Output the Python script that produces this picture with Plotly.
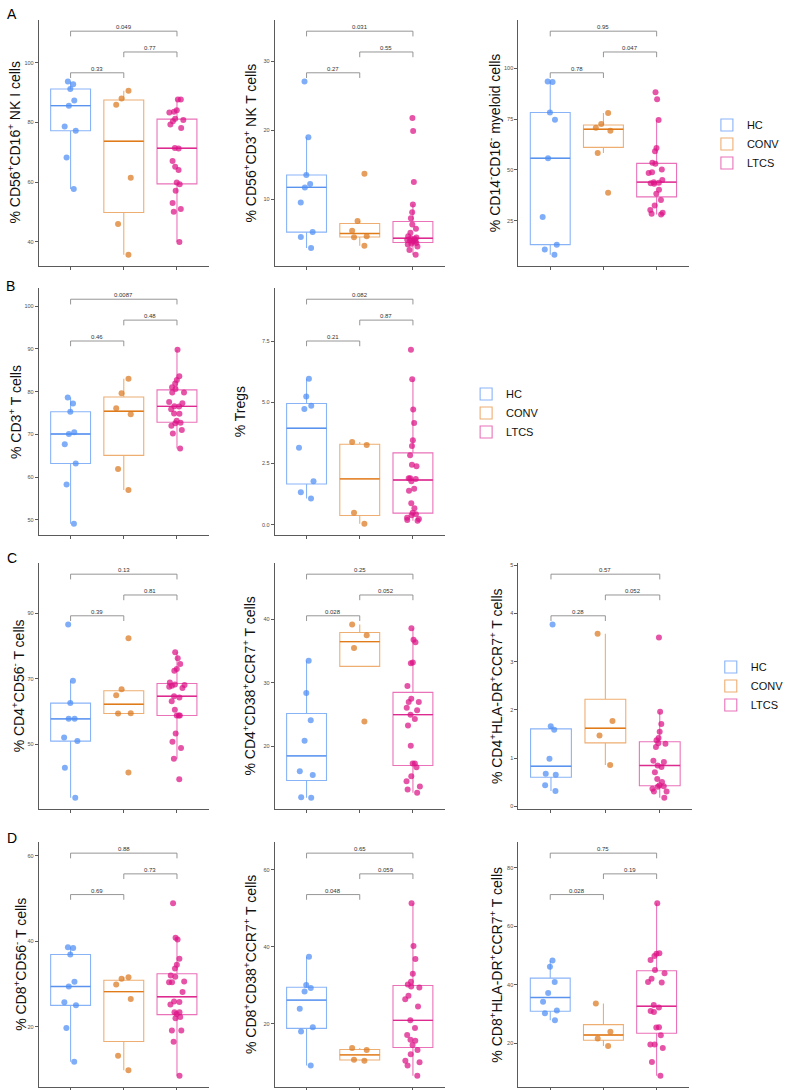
import numpy as np
import plotly.graph_objects as go

GROUPS = ["HC", "CONV", "LTCS"]
COMPARISONS = [(1, 2), (2, 3), (1, 3)]

# ---------------- data ----------------
# Row A
A1_HC = [93.7, 92.8, 91.2, 87.3, 85.6, 78.6, 77.2, 68.3, 57.7]
A1_CONV = [90.6, 88.0, 85.9, 61.5, 46.0, 35.7]
A1_LTCS = [87.7, 87.7, 84.1, 83.6, 83.3, 81.2, 80.4, 80.8, 79.3, 78.1, 71.4, 71.3,
           67.1, 65.2, 64.1, 59.9, 59.3, 57.1, 53.0, 51.0, 50.1, 40.0]
A1_P = ["0.33", "0.77", "0.049"]
A1_TICKS = [40, 60, 80, 100]
A1_TICKTEXT = ["40", "60", "80", "100"]

A2_HC = [27.1, 19.0, 13.5, 12.2, 11.7, 9.5, 5.2, 4.5, 2.9]
A2_CONV = [13.7, 6.8, 5.4, 4.6, 4.45, 3.2]
A2_LTCS = [21.8, 19.9, 12.5, 9.2, 8.1, 7.2, 6.3, 5.7, 5.1, 4.6, 4.4, 4.3, 4.2, 4.1,
           4.0, 3.9, 3.8, 3.6, 3.5, 3.4, 3.1, 2.6, 1.9]
A2_P = ["0.27", "0.55", "0.031"]
A2_TICKS = [10, 20, 30]
A2_TICKTEXT = ["10", "20", "30"]

A3_HC = [93.3, 93.6, 78.3, 74.7, 55.8, 26.8, 13.2, 10.8, 8.2]
A3_CONV = [78.1, 72.6, 70.8, 69.3, 58.4, 38.8]
A3_LTCS = [88.3, 84.8, 74.6, 60.8, 59.2, 53.5, 53.0, 50.2, 48.9, 48.5, 45.0, 44.0,
           43.7, 43.5, 43.2, 40.3, 38.3, 35.2, 32.5, 30.3, 28.9, 28.4, 28.0]
A3_P = ["0.78", "0.047", "0.95"]
A3_TICKS = [25, 50, 75, 100]
A3_TICKTEXT = ["25", "50", "75", "100"]

# Row B
B1_HC = [78.6, 77.2, 75.3, 70.5, 70.1, 67.7, 63.2, 58.3, 49.1]
B1_CONV = [83.0, 79.6, 76.1, 74.7, 61.9, 57.0]
B1_LTCS = [89.8, 83.6, 82.7, 81.9, 81.0, 80.6, 79.8, 79.8, 77.6, 77.3, 76.6, 76.5,
           75.9, 74.9, 74.8, 73.2, 72.7, 72.6, 72.0, 71.0, 70.2, 66.7]
B1_P = ["0.46", "0.48", "0.0087"]
B1_TICKS = [50, 60, 70, 80, 90, 100]
B1_TICKTEXT = ["50", "60", "70", "80", "90", "100"]

B2_HC = [5.96, 5.24, 4.86, 4.73, 3.15, 1.78, 1.33, 1.07]
B2_CONV = [3.38, 3.26, 0.49, 0.04]
B2_LTCS = [7.15, 5.94, 4.71, 4.16, 3.45, 3.22, 2.84, 2.45, 2.39, 1.90, 1.90, 1.87,
           1.78, 1.47, 1.39, 0.88, 0.67, 0.49, 0.43, 0.39, 0.29, 0.23, 0.19, 0.16]
B2_P = ["0.21", "0.87", "0.082"]
B2_TICKS = [0.0, 2.5, 5.0, 7.5]
B2_TICKTEXT = ["0.0", "2.5", "5.0", "7.5"]

# Row C
C1_HC = [86.6, 69.4, 62.6, 57.8, 57.8, 52.1, 51.0, 42.9, 33.7]
C1_CONV = [82.4, 66.8, 65.0, 59.5, 59.4, 41.4]
C1_LTCS = [78.1, 76.3, 74.5, 73.0, 72.5, 68.9, 68.3, 68.1, 67.9, 67.6, 67.2, 64.7,
           64.3, 63.2, 60.6, 58.8, 58.8, 58.8, 53.3, 50.8, 48.9, 45.6, 39.4]
C1_P = ["0.39", "0.81", "0.13"]
C1_TICKS = [50, 70, 90]
C1_TICKTEXT = ["50", "70", "90"]

C2_HC = [33.5, 28.4, 24.1, 20.9, 16.1, 15.5, 12.0, 11.9]
C2_CONV = [39.2, 37.5, 35.5, 23.9]
C2_LTCS = [38.6, 36.8, 36.4, 33.2, 33.1, 29.5, 27.5, 27.0, 27.0, 26.1, 25.7, 25.0,
           24.3, 23.3, 20.1, 17.3, 17.3, 16.7, 15.3, 14.5, 13.7, 13.2, 12.7]
C2_P = ["0.028", "0.052", "0.25"]
C2_TICKS = [20, 30, 40]
C2_TICKTEXT = ["20", "30", "40"]

C3_HC = [3.77, 1.66, 1.59, 0.99, 0.68, 0.66, 0.44, 0.32]
C3_CONV = [3.58, 1.77, 1.47, 0.86]
C3_LTCS = [3.50, 1.96, 1.71, 1.55, 1.42, 1.37, 1.31, 1.30, 1.23, 0.95, 0.92, 0.85,
           0.82, 0.71, 0.57, 0.51, 0.44, 0.42, 0.41, 0.37, 0.31, 0.31, 0.18]
C3_P = ["0.28", "0.052", "0.57"]
C3_TICKS = [0, 1, 2, 3, 4, 5]
C3_TICKTEXT = ["0", "1", "2", "3", "4", "5"]

# Row D
D1_HC = [38.6, 38.4, 36.9, 30.5, 29.4, 25.7, 25.0, 19.7, 11.8]
D1_CONV = [31.6, 31.2, 29.9, 26.5, 13.2, 9.8]
D1_LTCS = [48.9, 40.8, 40.4, 35.9, 34.5, 33.6, 32.0, 31.7, 30.6, 30.4, 30.4, 28.1,
           25.9, 25.8, 25.2, 23.4, 23.4, 23.0, 22.3, 22.0, 19.1, 19.1, 16.5, 8.5]
D1_P = ["0.69", "0.73", "0.88"]
D1_TICKS = [20, 40, 60]
D1_TICKTEXT = ["20", "40", "60"]

D2_HC = [37.4, 30.1, 29.3, 28.4, 23.9, 19.1, 18.0, 9.2]
D2_CONV = [13.7, 13.2, 10.7, 10.4]
D2_LTCS = [51.3, 40.2, 36.8, 33.0, 30.9, 30.2, 29.7, 29.4, 27.3, 26.4, 24.5, 20.9,
           18.9, 17.1, 15.9, 15.6, 14.5, 13.2, 12.1, 10.4, 10.0, 9.2, 6.5]
D2_P = ["0.048", "0.059", "0.65"]
D2_TICKS = [20, 40, 60]
D2_TICKTEXT = ["20", "40", "60"]

D3_HC = [48.3, 46.2, 41.0, 37.2, 34.2, 31.2, 30.3, 27.9]
D3_CONV = [33.6, 24.0, 21.7, 19.1]
D3_LTCS = [67.9, 50.8, 50.6, 49.9, 48.5, 45.1, 44.0, 42.1, 41.0, 40.8, 33.1, 32.3,
           31.1, 30.7, 25.5, 25.4, 22.8, 19.6, 19.6, 18.4, 13.6, 8.9]
D3_P = ["0.028", "0.19", "0.75"]
D3_TICKS = [20, 40, 60, 80]
D3_TICKTEXT = ["20", "40", "60", "80"]

TITLES = {
    "A1": "% CD56<sup>+</sup>CD16<sup>+</sup> NK I cells",
    "A2": "% CD56<sup>+</sup>CD3<sup>+</sup> NK T cells",
    "A3": "% CD14<sup>-</sup>CD16<sup>-</sup> myeloid cells",
    "B1": "% CD3<sup>+</sup> T cells",
    "B2": "% Tregs",
    "C1": "% CD4<sup>+</sup>CD56<sup>-</sup> T cells",
    "C2": "% CD4<sup>+</sup>CD38<sup>+</sup>CCR7<sup>+</sup> T cells",
    "C3": "% CD4<sup>+</sup>HLA-DR<sup>+</sup>CCR7<sup>+</sup> T cells",
    "D1": "% CD8<sup>+</sup>CD56<sup>-</sup> T cells",
    "D2": "% CD8<sup>+</sup>CD38<sup>+</sup>CCR7<sup>+</sup> T cells",
    "D3": "% CD8<sup>+</sup>HLA-DR<sup>+</sup>CCR7<sup>+</sup> T cells",
}
PANEL_LETTERS = ["A", "B", "C", "D"]

# ---------------- styling / layout ----------------
W, H = 789, 1090
FONT = "Liberation Sans, Arial, Helvetica, sans-serif"
PT_COL = {"HC": "#4E8EF4", "CONV": "#DB781F", "LTCS": "#DC1287"}
BOX_COL = {"HC": "#89B3F7", "CONV": "#EEAE72", "LTCS": "#EA72B9"}
MED_COL = {"HC": "#5A93EE", "CONV": "#E07B1A", "LTCS": "#DC2A8E"}
AXIS_COL = "#5a5a5a"
BOX_W = 0.75

ROW_Y = {"A": (20, 266), "B": (288, 535), "C": (563, 809), "D": (842, 1087)}
COL_X = {1: (40, 216), 2: (284, 460), 3: (536, 712)}
TITLE_X = {"A1": 15, "A2": 259, "A3": 511, "B1": 16, "B2": 249,
           "C1": 19, "C2": 258, "C3": 513, "D1": 20, "D2": 258, "D3": 512}
LEGENDS = {"A3": ("legend", 731, 144), "B2": ("legend2", 482, 413), "C3": ("legend3", 735, 686)}
LETTER_POS = {"A": (5, 4), "B": (4, 276), "C": (5, 548), "D": (5, 828)}

PANELS = [
    ("A1", [A1_HC, A1_CONV, A1_LTCS], A1_P, A1_TICKS, A1_TICKTEXT),
    ("A2", [A2_HC, A2_CONV, A2_LTCS], A2_P, A2_TICKS, A2_TICKTEXT),
    ("A3", [A3_HC, A3_CONV, A3_LTCS], A3_P, A3_TICKS, A3_TICKTEXT),
    ("B1", [B1_HC, B1_CONV, B1_LTCS], B1_P, B1_TICKS, B1_TICKTEXT),
    ("B2", [B2_HC, B2_CONV, B2_LTCS], B2_P, B2_TICKS, B2_TICKTEXT),
    ("C1", [C1_HC, C1_CONV, C1_LTCS], C1_P, C1_TICKS, C1_TICKTEXT),
    ("C2", [C2_HC, C2_CONV, C2_LTCS], C2_P, C2_TICKS, C2_TICKTEXT),
    ("C3", [C3_HC, C3_CONV, C3_LTCS], C3_P, C3_TICKS, C3_TICKTEXT),
    ("D1", [D1_HC, D1_CONV, D1_LTCS], D1_P, D1_TICKS, D1_TICKTEXT),
    ("D2", [D2_HC, D2_CONV, D2_LTCS], D2_P, D2_TICKS, D2_TICKTEXT),
    ("D3", [D3_HC, D3_CONV, D3_LTCS], D3_P, D3_TICKS, D3_TICKTEXT),
]


def box_stats(values):
    v = np.asarray(values, dtype=float)
    q1, med, q3 = np.percentile(v, [25, 50, 75])
    iqr = q3 - q1
    lf = v[v >= q1 - 1.5 * iqr].min()
    uf = v[v <= q3 + 1.5 * iqr].max()
    return float(q1), float(med), float(q3), float(lf), float(uf)


fig = go.Figure()
layout = dict(
    width=W, height=H, margin=dict(l=0, r=0, t=0, b=0),
    paper_bgcolor="white", plot_bgcolor="white",
    font=dict(family=FONT, color="#000000"),
    showlegend=True, boxmode="overlay",
)
annotations = []
shapes = []

for i, (pid, groups, pvals, ticks, ticktext) in enumerate(PANELS, start=1):
    row, col = pid[0], int(pid[1])
    xr = "x" if i == 1 else f"x{i}"
    yr = "y" if i == 1 else f"y{i}"
    xkey = "xaxis" if i == 1 else f"xaxis{i}"
    ykey = "yaxis" if i == 1 else f"yaxis{i}"

    x0, x1 = COL_X[col]
    if pid == "C3":
        x1 = 716
    y0, y1 = ROW_Y[row]

    allv = np.concatenate([np.asarray(g, float) for g in groups])
    lo, hi = allv.min(), allv.max()
    R = hi - lo
    levels = [hi + R * (0.05 + 0.12 * k) for k in range(3)]
    tip = 0.03 * R
    top = levels[-1]
    T = top - lo
    yrange = [lo - 0.05 * T, top + 0.05 * T]

    leg = LEGENDS.get(pid)
    for gi, (gname, vals) in enumerate(zip(GROUPS, groups), start=1):
        q1, med, q3, lf, uf = box_stats(vals)
        # box outline + whiskers
        fig.add_trace(go.Box(
            x=[gi], q1=[q1], median=[med], q3=[q3], lowerfence=[lf], upperfence=[uf],
            width=BOX_W, whiskerwidth=0, boxpoints=False,
            line=dict(color=BOX_COL[gname], width=1.1),
            fillcolor="rgba(255,255,255,0)",
            name=gname, showlegend=leg is not None,
            legend=leg[0] if leg else None,
            xaxis=xr, yaxis=yr, hoverinfo="skip",
        ))
        # darker median line
        fig.add_trace(go.Box(
            x=[gi], q1=[med], median=[med], q3=[med], lowerfence=[med], upperfence=[med],
            width=BOX_W, whiskerwidth=0, boxpoints=False,
            line=dict(color=MED_COL[gname], width=1.4),
            fillcolor="rgba(255,255,255,0)",
            name=gname, showlegend=False, xaxis=xr, yaxis=yr, hoverinfo="skip",
        ))
        # jittered points
        fig.add_trace(go.Box(
            x=[gi] * len(vals), y=vals, width=BOX_W,
            boxpoints="all", jitter=0.45, pointpos=0, whiskerwidth=0,
            line=dict(width=0, color="rgba(0,0,0,0)"),
            fillcolor="rgba(0,0,0,0)",
            marker=dict(color=PT_COL[gname], size=6, opacity=0.72, line=dict(width=0)),
            name=gname, showlegend=False, xaxis=xr, yaxis=yr, hoveron="points",
        ))

    layout[xkey] = dict(
        domain=[x0 / W, x1 / W], anchor=yr, range=[0.4, 3.6],
        tickvals=[1, 2, 3], showticklabels=False, ticks="outside", ticklen=3,
        tickwidth=1, tickcolor=AXIS_COL, showline=True, linecolor=AXIS_COL,
        linewidth=1, showgrid=False, zeroline=False, fixedrange=True,
    )
    layout[ykey] = dict(
        domain=[1 - y1 / H, 1 - y0 / H], anchor=xr, range=yrange,
        tickvals=ticks, ticktext=ticktext, ticks="outside", ticklen=3, tickwidth=1,
        tickcolor=AXIS_COL, tickfont=dict(size=5.5, color="#4d4d4d"),
        showline=True, linecolor=AXIS_COL, linewidth=1, showgrid=False,
        zeroline=False, fixedrange=True,
    )

    # significance brackets
    for (a, b), lvl, ptxt in zip(COMPARISONS, levels, pvals):
        shapes.append(dict(
            type="path", xref=xr, yref=yr,
            path=f"M {a},{lvl - tip} L {a},{lvl} L {b},{lvl} L {b},{lvl - tip}",
            line=dict(color="#8a8a8a", width=0.9),
        ))
        annotations.append(dict(
            x=(a + b) / 2, y=lvl, xref=xr, yref=yr, text=ptxt, showarrow=False,
            yanchor="bottom", xanchor="center", yshift=0, borderpad=0,
            font=dict(size=6, color="#333333", family=FONT),
        ))

    # y-axis title
    annotations.append(dict(
        x=TITLE_X[pid] / W, y=1 - (y0 + y1) / 2 / H, xref="paper", yref="paper",
        text=TITLES[pid], textangle=-90, showarrow=False,
        xanchor="center", yanchor="middle",
        font=dict(size=14, color="#111111", family=FONT),
    ))

for letter in PANEL_LETTERS:
    lx, ly = LETTER_POS[letter]
    annotations.append(dict(
        x=lx / W, y=1 - ly / H, xref="paper", yref="paper", text=letter,
        showarrow=False, xanchor="left", yanchor="top",
        font=dict(size=14, color="#000000", family=FONT),
    ))

for pid, (lkey, lx, ly) in LEGENDS.items():
    layout[lkey] = dict(
        x=lx / W, y=1 - ly / H, xanchor="left", yanchor="middle",
        xref="paper", yref="paper", bgcolor="rgba(0,0,0,0)",
        font=dict(size=11, color="#111111", family=FONT),
        tracegroupgap=0,
    )

layout["annotations"] = annotations
layout["shapes"] = shapes
fig.update_layout(**layout)
fig.write_html("out.html")
